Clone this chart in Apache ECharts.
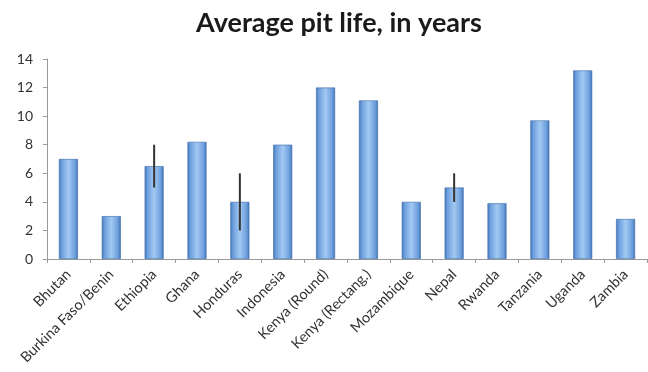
<!DOCTYPE html>
<html>
<head>
<meta charset="utf-8">
<script src="https://cdn.jsdelivr.net/npm/echarts@6/dist/echarts.min.js"></script>
<style>
  html, body { margin: 0; padding: 0; background: #fff; }
  #chart { width: 648px; height: 372px; }
</style>
</head>
<body>
<div id="chart"></div>
<script>
  // data
  var countries = ['Bhutan', 'Burkina Faso/Benin', 'Ethiopia', 'Ghana', 'Honduras', 'Indonesia',
    'Kenya (Round)', 'Kenya (Rectang.)', 'Mozambique', 'Nepal', 'Rwanda', 'Tanzania', 'Uganda', 'Zambia']
  var pitLife = [7, 3, 6.5, 8.2, 4, 8, 12, 11.1, 4, 5, 3.9, 9.7, 13.2, 2.8]
  // error bar ranges [category index, low, high]
  var ranges = [[2, 5, 8], [4, 2, 6], [9, 4, 6]]
  var yTicks = [0, 2, 4, 6, 8, 10, 12, 14]

  var myChart = echarts.init(document.getElementById('chart'))

  var barColor = new echarts.graphic.LinearGradient(0, 0, 1, 0, [
    { offset: 0, color: '#4477bb' },
    { offset: 0.15, color: '#6d9fdd' },
    { offset: 0.5, color: '#a3c9f2' },
    { offset: 0.85, color: '#6d9fdd' },
    { offset: 1, color: '#4273b6' }
  ])

  var option = {
    backgroundColor: '#ffffff',
    animation: false,
    title: {
      text: 'Average pit life, in years',
      left: 334,
      textAlign: 'center',
      top: 5,
      textStyle: { fontFamily: 'Lato', fontWeight: 'bold', fontSize: 27, color: '#1a1a1a' }
    },
    grid: { left: 47, right: 1, top: 59, bottom: 113 },
    xAxis: {
      type: 'category',
      data: countries,
      axisLine: { lineStyle: { color: '#9a9a9a' } },
      axisTick: { show: true, alignWithLabel: false, length: 4, lineStyle: { color: '#9a9a9a' } },
      axisLabel: { rotate: 45, interval: 0, fontFamily: 'Lato', fontSize: 14.5, color: '#333', margin: 13 }
    },
    yAxis: {
      type: 'value',
      min: yTicks[0],
      max: yTicks[yTicks.length - 1],
      interval: 2,
      splitLine: { show: false },
      axisLine: { show: true, lineStyle: { color: '#9a9a9a' } },
      axisTick: { show: true, length: 4, lineStyle: { color: '#9a9a9a' } },
      axisLabel: { fontFamily: 'Lato', fontSize: 14, color: '#333', margin: 14 }
    },
    series: [
      {
        name: 'pit life',
        type: 'bar',
        data: pitLife,
        barWidth: 19,
        itemStyle: { color: barColor, borderColor: '#3a69a8', borderWidth: 0.6 }
      },
      {
        name: 'range',
        type: 'custom',
        data: ranges,
        renderItem: function (params, api) {
          var top = api.coord([api.value(0), api.value(2)])
          var bottom = api.coord([api.value(0), api.value(1)])
          return {
            type: 'line',
            shape: { x1: top[0], y1: top[1], x2: bottom[0], y2: bottom[1] },
            style: { stroke: '#333', lineWidth: 2 }
          }
        },
        z: 5
      }
    ]
  }

  myChart.setOption(option)
</script>
</body>
</html>
